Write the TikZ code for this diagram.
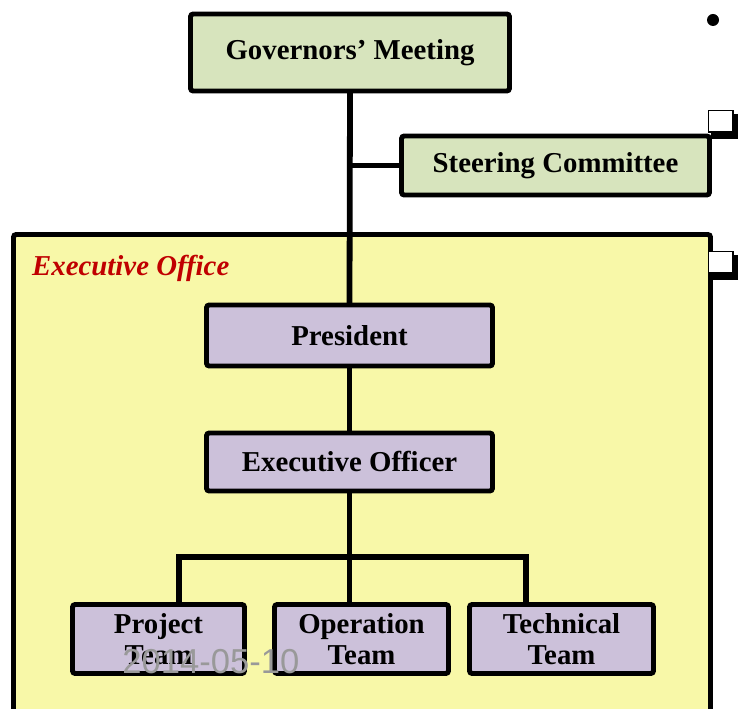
\documentclass[tikz,border=0pt]{standalone}
\usepackage{fontspec}
\setmainfont{Liberation Serif}
\newfontfamily\stampfont{Liberation Sans}
\definecolor{govGreen}{HTML}{D7E4BD}
\definecolor{staffPurple}{HTML}{CCC1DA}
\definecolor{officeYellow}{HTML}{F8F8A8}
\definecolor{titleRed}{HTML}{C00000}
\pgfdeclarelayer{frame}
\pgfdeclarelayer{lines}
\pgfsetlayers{frame,lines,main}
\tikzstyle{link} = [line width=3.3pt, line cap=rect]
\tikzstyle{mBox} = [draw=black, line width=2.8pt, rounded corners=1.5pt, align=center,
  font=\fontsize{16.4}{18}\selectfont\bfseries, inner sep=0pt]
\tikzstyle{mGreen} = [mBox, fill=govGreen]
\tikzstyle{mPurple} = [mBox, fill=staffPurple]

\begin{document}
\begin{tikzpicture}[x=0.02cm, y=-0.02cm]
        \clip (0,0) rectangle (738,709);

        \node[mGreen, minimum width=6.38cm, minimum height=1.54cm] (gov) at (350,52.5) {Governors' Meeting};
        \node[mGreen, minimum width=6.16cm, minimum height=1.18cm] (steer) at (555.5,165.5) {Steering Committee};
        \node[mPurple, minimum width=5.72cm, minimum height=1.22cm] (pres) at (349.5,335.5) {President};
        \node[mPurple, minimum width=5.72cm, minimum height=1.16cm] (exo) at (349.5,462) {Executive Officer};
        \node[mPurple, minimum width=3.44cm, minimum height=1.38cm] (proj) at (158.5,639) {Project\\Team};
        \node[mPurple, minimum width=3.48cm, minimum height=1.38cm] (ops) at (361.5,639) {Operation\\Team};
        \node[mPurple, minimum width=3.68cm, minimum height=1.38cm] (tech) at (561.5,639) {Technical\\Team};

        % executive office frame, open at the bottom
        \begin{pgfonlayer}{frame}
        \draw[line width=2.8pt, rounded corners=1.5pt, fill=officeYellow] (13.5,760) -- (13.5,234.5) -- (710.5,234.5) -- (710.5,760);
        \end{pgfonlayer}
        \node[anchor=west, text=titleRed, font=\fontsize{16.4}{18}\selectfont\bfseries\itshape] (eoTitle) at (26,268) {Executive Office};

        \coordinate (branch) at (gov.south |- steer.west);
        \coordinate (forkL) at (179,557);
        \coordinate (forkR) at (526,557);

        \begin{pgfonlayer}{lines}
        \draw[link] (gov.south) -- (pres.north);
        \draw[link] (branch) -- (steer.west);
        \draw[link] (pres.south) -- (exo.north);
        \draw[link] (exo.south) -- (exo.south |- ops.north);
        \draw[link] (forkL) -- (forkR);
        \draw[link] (forkL) -- (forkL |- proj.north);
        \draw[link] (forkR) -- (forkR |- tech.north);
        \end{pgfonlayer}

        % bullet and check boxes on the right
        \fill (713,20) circle (6);
        \draw[line width=0.8pt, fill=white] (708.5,110.5) rectangle (733,132);
        \draw[line width=3.2pt] (735.5,114) -- (735.5,136) -- (711,136);
        \draw[line width=0.8pt, fill=white] (708.5,251.5) rectangle (733,273);
        \draw[line width=3.2pt] (735.5,255) -- (735.5,277) -- (711,277);

        \node[text=black!40, font=\stampfont\fontsize{19.7}{20}\selectfont] (stamp) at (211,662) {2014-05-10};
\end{tikzpicture}
\end{document}
